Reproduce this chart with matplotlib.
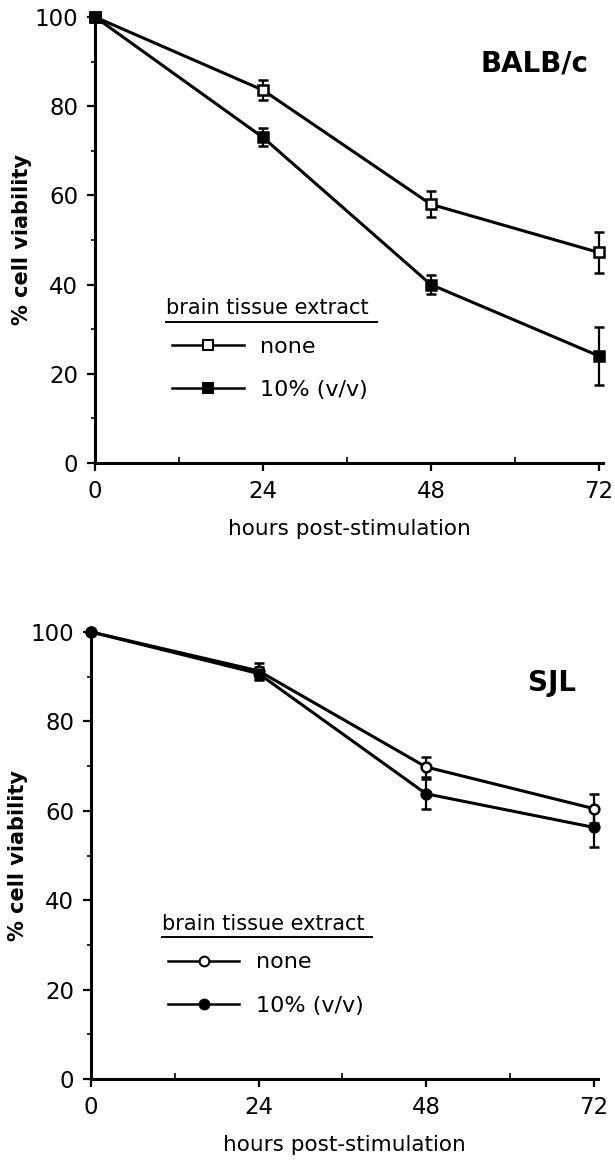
import numpy as np
import matplotlib.pyplot as plt
from matplotlib.ticker import MultipleLocator
from matplotlib.lines import Line2D

# time points (hours post-stimulation)
hours = [0, 24, 48, 72]

# BALB/c
balb_none = [100, 83.6, 58.0, 47.2]
balb_none_err = [0, 2.2, 2.9, 4.7]
balb_bte = [100, 73.0, 40.0, 24.0]
balb_bte_err = [0, 2.0, 2.2, 6.6]

# SJL
sjl_none = [100, 91.3, 69.8, 60.5]
sjl_none_err = [0, 1.8, 2.3, 3.2]
sjl_bte = [100, 90.7, 63.8, 56.3]
sjl_bte_err = [0, 1.5, 3.4, 4.3]

fig = plt.figure(figsize=(6.15, 11.63), dpi=100)
ax1 = fig.add_axes([0.1545, 0.6019, 0.826, 0.3835])
ax2 = fig.add_axes([0.148, 0.0722, 0.824, 0.3844])

def style(ax):
    ax.set_xlim(0, 72.6)
    ax.set_ylim(0, 100)
    for s in ['top', 'right']:
        ax.spines[s].set_visible(False)
    for s in ['left', 'bottom']:
        ax.spines[s].set_linewidth(2.2)
    ax.set_xticks(hours)
    ax.set_yticks([0, 20, 40, 60, 80, 100])
    ax.xaxis.set_minor_locator(MultipleLocator(12))
    ax.yaxis.set_minor_locator(MultipleLocator(10))
    ax.tick_params(axis='both', which='major', labelsize=16.5, width=1.6, length=6, pad=6)
    ax.tick_params(axis='x', which='minor', direction='in', width=1.2, length=4)
    ax.tick_params(axis='y', which='minor', direction='out', width=1.2, length=3)
    ax.set_xlabel('hours post-stimulation', fontsize=15.5, labelpad=12)
    ax.set_ylabel('% cell viability', fontsize=15, fontweight='bold', labelpad=2)

def draw(ax, y1, e1, y2, e2, marker, ms, title, tx, ty, leg_y):
    ax.errorbar(hours, y1, yerr=e1, color='black', lw=2.2, marker=marker, ms=ms,
                mfc='white', mec='black', mew=1.8, capsize=3.5, elinewidth=1.6,
                capthick=1.6, clip_on=False, zorder=3)
    ax.errorbar(hours, y2, yerr=e2, color='black', lw=2.2, marker=marker, ms=ms,
                mfc='black', mec='black', mew=1.8, capsize=3.5, elinewidth=1.6,
                capthick=1.6, clip_on=False, zorder=3)
    ax.text(tx, ty, title, transform=ax.transAxes, fontsize=20, fontweight='bold',
            ha='center', va='center')
    # legend
    ax.text(0.14, leg_y, 'brain tissue extract', transform=ax.transAxes,
            fontsize=15, ha='left', va='bottom')
    ax.plot([0.14, 0.555], [leg_y - 0.008, leg_y - 0.008], transform=ax.transAxes,
            color='black', lw=1.4)
    h1 = Line2D([], [], color='black', lw=1.8, marker=marker, ms=ms, mfc='white', mec='black', mew=1.5)
    h2 = Line2D([], [], color='black', lw=1.8, marker=marker, ms=ms, mfc='black', mec='black', mew=1.5)
    ax.legend([h1, h2], ['none', '10% (v/v)'], loc='upper left',
              bbox_to_anchor=(0.135, leg_y - 0.022), frameon=False, fontsize=16,
              handlelength=3.2, handletextpad=0.75, labelspacing=1.05, borderaxespad=0)

style(ax1)
style(ax2)
draw(ax1, balb_none, balb_none_err, balb_bte, balb_bte_err, 's', 7.5, 'BALB/c', 0.866, 0.895, 0.325)
draw(ax2, sjl_none, sjl_none_err, sjl_bte, sjl_bte_err, 'o', 7, 'SJL', 0.909, 0.886, 0.325)

fig.savefig('out.png', dpi=100)
